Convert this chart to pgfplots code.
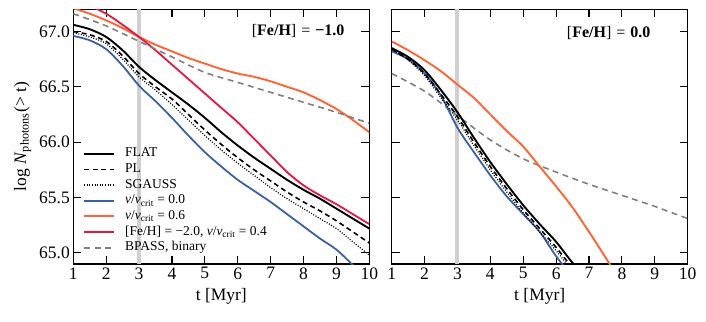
\documentclass[border=0pt]{standalone}
\usepackage{fontspec}
\setmainfont{Liberation Serif}
\usepackage{pgfplots}
\pgfplotsset{compat=1.18}

\definecolor{cblue}{RGB}{60,96,168}
\definecolor{corange}{RGB}{255,100,55}
\definecolor{cred}{RGB}{230,22,65}
\definecolor{cgray}{RGB}{128,128,128}
\definecolor{cband}{RGB}{208,208,208}

\pgfplotsset{
  panel/.style={
    width=296pt, height=254.7pt, scale only axis,
    xmin=1, xmax=10, ymin=64.9, ymax=67.2,
    xtick={1,...,10}, ytick={65,65.5,66,66.5,67},
    tick align=inside, major tick length=8pt, minor tick num=0,
    every tick/.style={black, line width=1.1pt},
    axis line style={line width=1.2pt},
    ticklabel style={font=\fontsize{17.5}{19}\selectfont},
    /pgf/number format/assume math mode=true,
    y tick label style={/pgf/number format/.cd, fixed, fixed zerofill, precision=1, /tikz/.cd},
    xlabel={t [Myr]},
    xlabel style={yshift=-2pt},
    label style={font=\fontsize{17.5}{19}\selectfont},
    legend image code/.code={\draw[##1] (0pt,0pt) -- (30pt,0pt);},
  },
  flatline/.style={black, line width=1.9pt, smooth, tension=0.5},
  plline/.style={black, line width=1.6pt, dash pattern=on 5pt off 3.5pt, smooth, tension=0.5},
  sgline/.style={black, line width=1.2pt, dash pattern=on 1pt off 1.6pt, smooth, tension=0.5},
  zeroline/.style={cblue, line width=1.8pt, smooth, tension=0.5},
  sixline/.style={corange, line width=1.9pt, smooth, tension=0.5},
  feline/.style={cred, line width=1.8pt, smooth, tension=0.5},
  bpline/.style={cgray, line width=1.6pt, dash pattern=on 6pt off 4.5pt, smooth, tension=0.5},
}

\begin{document}
\begin{tikzpicture}
\path[use as bounding box] (0pt,0pt) rectangle (706pt,-321pt);

% left panel, [Fe/H] = -1.0
\begin{axis}[panel, at={(73.3pt,-264pt)}, anchor=south west,
    ylabel={log \textit{N}\textsubscript{photons}(> t)},
    ylabel shift=1pt,
    legend style={at={(0.033,0.465)}, anchor=north west, draw=none, fill=none,
      inner sep=0pt, column sep=10pt, row sep=0pt,
      font=\fontsize{13.5}{15}\selectfont,
      nodes={inner sep=0pt, text height=11pt, text depth=4.7pt}},
    legend cell align=left,
  ]
  \addplot[cband, line width=4pt, forget plot] coordinates {(3,64.9) (3,67.2)};
  \addplot[flatline] coordinates {
    (1,67.06) (1.5,67.02) (2,66.95) (2.5,66.83) (3,66.68) (3.5,66.56) (4,66.45)
    (4.5,66.34) (5,66.22) (5.5,66.09) (6,65.97) (6.5,65.86) (7,65.76) (7.5,65.66)
    (8,65.57) (8.5,65.49) (9,65.40) (9.5,65.31) (10,65.22)};
  \addlegendentry{FLAT}
  \addplot[plline] coordinates {
    (1,67.00) (1.5,66.97) (2,66.91) (2.5,66.78) (3,66.62) (3.5,66.50) (4,66.39)
    (4.5,66.25) (5,66.11) (5.5,65.98) (6,65.86) (6.5,65.75) (7,65.65) (7.5,65.55)
    (8,65.46) (8.5,65.38) (9,65.29) (9.5,65.19) (10,65.09)};
  \addlegendentry{PL}
  \addplot[sgline] coordinates {
    (1,66.99) (1.5,66.95) (2,66.89) (2.5,66.75) (3,66.59) (3.5,66.47) (4,66.34)
    (4.5,66.20) (5,66.06) (5.5,65.93) (6,65.81) (6.5,65.70) (7,65.59) (7.5,65.49)
    (8,65.40) (8.5,65.31) (9,65.22) (9.5,65.10) (10,64.98)};
  \addlegendentry{SGAUSS}
  \addplot[zeroline] coordinates {
    (1,66.96) (1.5,66.92) (2,66.84) (2.5,66.69) (3,66.51) (3.5,66.37) (4,66.22)
    (4.5,66.06) (5,65.91) (5.5,65.78) (6,65.66) (6.5,65.56) (7,65.46) (7.5,65.35)
    (8,65.24) (8.5,65.13) (9,65.03) (9.5,64.89) (10,64.74)};
  \addlegendentry{{\itshape ν}/{\itshape ν}\textsubscript{crit} = 0.0}
  \addplot[sixline] coordinates {
    (1,67.21) (1.5,67.16) (2,67.10) (2.5,67.03) (3,66.95) (3.5,66.88) (4,66.82)
    (4.5,66.76) (5,66.71) (5.5,66.66) (6,66.62) (6.5,66.59) (7,66.55) (7.5,66.50)
    (8,66.45) (8.5,66.38) (9,66.30) (9.5,66.20) (10,66.09)};
  \addlegendentry{{\itshape ν}/{\itshape ν}\textsubscript{crit} = 0.6}
  \addplot[feline] coordinates {
    (1,67.27) (1.5,67.23) (2,67.16) (2.5,67.06) (3,66.95) (3.5,66.83) (4,66.70)
    (4.5,66.57) (5,66.44) (5.5,66.31) (6,66.18) (6.5,66.03) (7,65.88) (7.5,65.73)
    (8,65.61) (8.5,65.52) (9,65.44) (9.5,65.35) (10,65.26)};
  \addlegendentry{{}[Fe/H] = −2.0, {\itshape ν}/{\itshape ν}\textsubscript{crit} = 0.4}
  \addplot[bpline] coordinates {
    (1,67.16) (2,67.05) (3,66.91) (4,66.77) (5,66.63) (6,66.54) (7,66.45)
    (8,66.36) (9,66.27) (10,66.17)};
  \addlegendentry{BPASS, binary}
  \node[anchor=east, font=\fontsize{16}{18}\selectfont] at (rel axis cs:0.928,0.915)
    {{[}\textbf{Fe/H}{]}\hspace{5pt}=\hspace{5pt}\textbf{−1.0}};
\end{axis}

% right panel, [Fe/H] = 0.0
\begin{axis}[panel, at={(391.7pt,-264pt)}, anchor=south west, yticklabels={}]
  \addplot[cband, line width=4pt] coordinates {(3,64.9) (3,67.2)};
  \addplot[bpline] coordinates {
    (1,66.62) (2,66.46) (3,66.24) (4,66.02) (5,65.85) (6,65.73) (7,65.62)
    (8,65.52) (9,65.42) (10,65.31)};
  \addplot[zeroline] coordinates {
    (1,66.82) (1.5,66.75) (2,66.62) (2.5,66.42) (3,66.13) (3.5,65.91) (4,65.70)
    (4.5,65.51) (5,65.35) (5.5,65.19) (6,64.97) (6.5,64.78)};
  \addplot[sgline] coordinates {
    (1,66.84) (1.5,66.74) (2,66.60) (2.5,66.40) (3,66.20) (3.5,65.97) (4,65.75)
    (4.5,65.55) (5,65.36) (5.5,65.19) (6,65.02) (6.5,64.83)};
  \addplot[plline] coordinates {
    (1,66.84) (1.5,66.75) (2,66.62) (2.5,66.43) (3,66.23) (3.5,66.00) (4,65.78)
    (4.5,65.58) (5,65.39) (5.5,65.22) (6,65.05) (6.5,64.86)};
  \addplot[flatline] coordinates {
    (1,66.85) (1.5,66.77) (2,66.65) (2.5,66.47) (3,66.27) (3.5,66.04) (4,65.82)
    (4.5,65.62) (5,65.43) (5.5,65.26) (6,65.10) (6.5,64.91) (7,64.75)};
  \addplot[sixline] coordinates {
    (1,66.91) (1.5,66.83) (2,66.74) (2.5,66.64) (3,66.52) (3.5,66.40) (4,66.25)
    (4.5,66.10) (5,65.96) (5.5,65.78) (6,65.60) (6.5,65.41) (7,65.19) (7.5,64.96)
    (8,64.72)};
  \node[anchor=east, font=\fontsize{16}{18}\selectfont] at (rel axis cs:0.886,0.907)
    {{[}\textbf{Fe/H}{]}\hspace{5pt}=\hspace{5pt}\textbf{0.0}};
\end{axis}
\end{tikzpicture}
\end{document}
